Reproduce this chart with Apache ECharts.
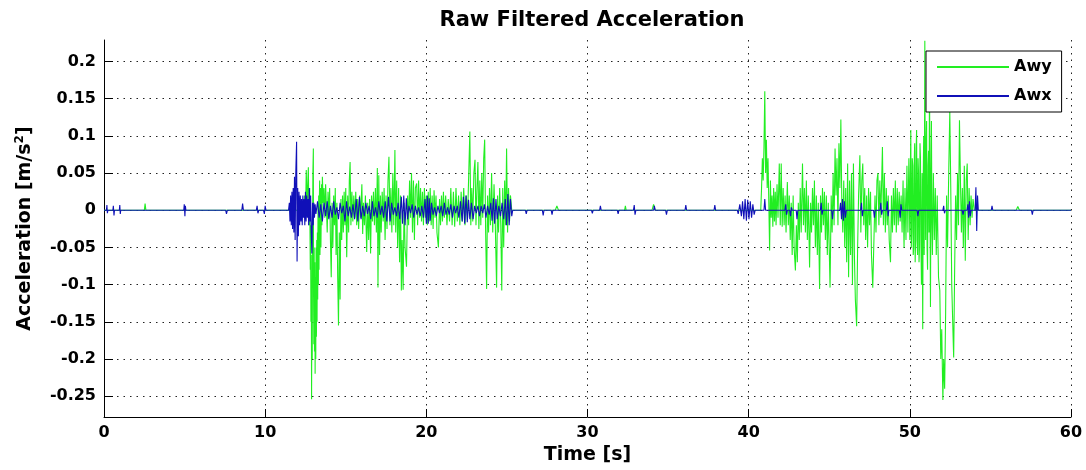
<!DOCTYPE html>
<html>
<head>
<meta charset="utf-8">
<title>Raw Filtered Acceleration</title>
<script src="https://cdn.jsdelivr.net/npm/echarts@6/dist/echarts.min.js"></script>
<style>
  html, body { margin: 0; padding: 0; background: #fff; }
  #chart { width: 1086px; height: 470px; }
</style>
</head>
<body>
<div id="chart"></div>
<script>
// y tick labels (MATLAB style, no box)
const yTicks = [-0.25, -0.2, -0.15, -0.1, -0.05, 0, 0.05, 0.1, 0.15, 0.2];

// Awy: lateral acceleration as [time s, value m/s^2]
const awyQuiet1 = [[0, 0], [2.5, 0], [2.55, 0.009], [2.6, 0], [12.4, 0]];
const awyBurst1 = [
  [12.45, 0.02], [12.5, -0.01], [12.55, 0.054], [12.6, 0.005], [12.65, 0.04], [12.68, 0.058],
  [12.72, -0.02], [12.76, 0.03], [12.8, -0.08], [12.82, -0.02], [12.84, -0.15], [12.86, -0.06],
  [12.88, -0.254], [12.9, -0.1], [12.92, -0.2], [12.94, -0.04], [12.96, 0.05], [12.99, 0.083],
  [13.0, -0.1], [13.02, -0.18], [13.04, -0.05], [13.06, -0.19], [13.08, -0.07], [13.1, -0.22],
  [13.12, -0.09], [13.14, -0.2], [13.16, -0.05], [13.18, -0.17], [13.2, -0.04], [13.22, -0.15],
  [13.24, -0.03], [13.26, -0.12], [13.28, 0.01], [13.3, -0.1], [13.32, 0.02], [13.34, -0.08],
  [13.36, 0.01], [13.38, 0.04], [13.4, -0.06], [13.42, -0.03], [13.44, 0.03], [13.46, -0.05],
  [13.5, 0.035], [13.52, -0.02], [13.55, 0.045], [13.6, 0.01], [13.65, 0.03],
  [13.7, -0.01], [13.75, 0.035], [13.8, 0.005], [13.85, -0.03], [13.9, 0.025], [13.95, -0.01],
  [14.0, 0.03], [14.05, -0.04], [14.1, -0.09], [14.15, 0.01], [14.2, -0.05], [14.25, 0.02],
  [14.3, -0.02], [14.35, 0.03], [14.4, -0.06], [14.45, 0.01], [14.5, -0.09], [14.55, -0.155],
  [14.6, -0.03], [14.65, -0.12], [14.7, 0.015], [14.75, -0.04], [14.8, 0.02], [14.85, -0.03],
  [14.9, 0.025], [14.95, -0.02], [15.0, 0.03], [15.06, -0.063], [15.12, 0.02], [15.18, -0.03],
  [15.22, 0.04], [15.27, 0.065], [15.32, -0.02], [15.38, 0.025], [15.44, -0.015], [15.5, 0.02],
  [15.56, -0.01], [15.62, 0.025], [15.68, -0.02], [15.74, 0.015], [15.8, -0.025], [15.86, 0.02],
  [15.92, -0.01], [16.0, 0.035], [16.05, -0.032], [16.1, 0.01], [16.16, -0.02], [16.22, 0.02],
  [16.3, -0.056], [16.36, 0.01], [16.42, -0.04], [16.48, 0.015], [16.54, -0.058], [16.6, 0.02],
  [16.66, -0.015], [16.72, 0.025], [16.78, -0.02], [16.84, 0.03], [16.9, -0.03], [16.96, 0.057],
  [17.0, -0.104], [17.05, 0.047], [17.1, -0.06], [17.15, 0.02], [17.2, -0.03], [17.26, 0.025],
  [17.32, -0.015], [17.38, 0.03], [17.44, -0.04], [17.5, 0.02], [17.56, -0.025], [17.62, 0.04],
  [17.68, 0.072], [17.74, -0.02], [17.8, 0.03], [17.86, -0.03], [17.92, 0.05], [17.98, -0.02],
  [18.05, 0.081], [18.1, -0.03], [18.16, 0.04], [18.22, -0.05], [18.28, 0.03], [18.34, -0.07],
  [18.4, 0.02], [18.45, -0.108], [18.5, -0.04], [18.56, -0.107], [18.62, 0.01], [18.68, -0.05],
  [18.77, -0.076], [18.84, 0.02], [18.9, -0.02], [18.96, 0.04], [19.02, -0.01], [19.08, 0.05],
  [19.14, -0.03], [19.2, 0.04], [19.26, -0.04], [19.32, 0.03], [19.4, 0.036], [19.46, -0.02],
  [19.52, 0.04], [19.58, -0.01], [19.64, 0.03], [19.7, -0.015], [19.76, 0.025], [19.82, -0.02],
  [19.88, 0.03], [19.94, -0.01], [20.0, 0.02], [20.06, -0.02], [20.12, 0.025], [20.18, -0.015],
  [20.24, 0.03], [20.3, -0.02], [20.36, 0.02], [20.42, -0.025], [20.48, 0.027], [20.54, -0.01],
  [20.6, 0.02], [20.66, -0.03], [20.75, -0.05], [20.82, 0.015], [20.88, -0.02], [20.94, 0.02],
  [21.0, -0.015], [21.06, 0.025], [21.12, -0.01], [21.2, 0.02], [21.28, -0.02], [21.36, 0.015],
  [21.44, -0.015], [21.52, 0.03], [21.6, -0.02], [21.68, 0.025], [21.76, -0.022], [21.84, 0.03],
  [21.92, -0.015], [22.0, 0.02], [22.08, -0.02], [22.16, 0.025], [22.24, -0.015], [22.32, 0.03],
  [22.4, -0.02], [22.48, 0.02], [22.56, -0.01], [22.62, 0.04], [22.7, 0.106], [22.76, -0.02],
  [22.82, 0.03], [22.88, -0.015], [22.95, 0.05], [23.02, 0.068], [23.08, -0.02], [23.14, 0.03],
  [23.2, 0.065], [23.26, -0.025], [23.32, 0.04], [23.38, -0.02], [23.44, 0.05], [23.5, -0.01],
  [23.56, 0.07], [23.62, 0.095], [23.68, -0.03], [23.74, -0.106], [23.8, 0.02], [23.86, -0.03],
  [23.92, 0.03], [23.98, -0.02], [24.05, 0.05], [24.12, -0.03], [24.2, 0.035], [24.28, -0.02],
  [24.36, -0.104], [24.42, 0.02], [24.48, -0.03], [24.55, 0.03], [24.62, -0.02], [24.68, -0.108],
  [24.74, 0.03], [24.8, -0.05], [24.86, 0.04], [24.92, -0.02], [24.98, 0.083], [25.04, -0.03],
  [25.1, 0.03], [25.16, -0.015], [25.22, 0.02], [25.3, 0]
];
const awyQuiet2 = [
  [28.0, 0], [28.1, 0.006], [28.2, 0], [32.3, 0], [32.35, 0.006], [32.4, 0],
  [34.0, 0], [34.1, 0.008], [34.2, 0], [40.75, 0]
];
const awyBurst2 = [
  [40.8, 0.03], [40.85, 0.07], [40.9, 0.04], [40.95, 0.085], [41.0, 0.16], [41.05, 0.05],
  [41.1, 0.095], [41.15, 0.03], [41.2, 0.07], [41.25, 0.01], [41.3, -0.054], [41.35, 0.04],
  [41.4, -0.01], [41.45, 0.02], [41.5, -0.022], [41.55, 0.03], [41.6, -0.015], [41.65, 0.025],
  [41.7, -0.02], [41.76, 0.035], [41.82, -0.01], [41.9, 0.063], [41.96, -0.02], [42.02, 0.063],
  [42.08, -0.022], [42.14, 0.03], [42.2, -0.02], [42.26, 0.02], [42.32, -0.03], [42.4, 0.038],
  [42.46, -0.02], [42.52, 0.02], [42.58, -0.04], [42.64, 0.01], [42.7, -0.06], [42.76, 0.02],
  [42.82, -0.05], [42.9, -0.081], [42.96, -0.02], [43.02, -0.07], [43.08, 0.01], [43.14, -0.04],
  [43.2, 0.03], [43.26, -0.03], [43.34, 0.063], [43.4, -0.02], [43.46, 0.03], [43.52, -0.03],
  [43.58, 0.04], [43.64, -0.04], [43.7, 0.02], [43.78, -0.077], [43.84, 0.01], [43.9, -0.03],
  [43.96, 0.03], [44.02, -0.02], [44.08, 0.04], [44.14, -0.05], [44.2, 0.02], [44.26, -0.06],
  [44.32, 0.01], [44.4, -0.106], [44.46, 0.02], [44.52, -0.03], [44.58, 0.03], [44.64, -0.02],
  [44.7, 0.025], [44.76, -0.04], [44.82, 0.02], [44.88, -0.06], [44.94, 0.01], [45.05, -0.104],
  [45.12, 0.02], [45.18, -0.03], [45.24, 0.05], [45.3, -0.02], [45.36, 0.083], [45.42, 0.02],
  [45.48, 0.07], [45.54, -0.02], [45.6, 0.09], [45.66, 0.03], [45.72, 0.122], [45.78, 0.01],
  [45.84, -0.03], [45.9, 0.04], [45.96, -0.05], [46.02, 0.03], [46.08, -0.07], [46.14, 0.063],
  [46.2, -0.09], [46.26, 0.04], [46.32, -0.06], [46.38, 0.05], [46.44, -0.1], [46.5, 0.063],
  [46.56, -0.06], [46.62, -0.12], [46.7, -0.156], [46.76, -0.05], [46.82, 0.02], [46.9, 0.074],
  [46.96, -0.03], [47.02, 0.04], [47.08, 0.063], [47.14, -0.02], [47.2, 0.03], [47.26, -0.04],
  [47.32, 0.02], [47.38, -0.05], [47.44, 0.03], [47.5, -0.02], [47.56, 0.025], [47.62, -0.06],
  [47.7, -0.104], [47.78, -0.106], [47.84, 0.02], [47.9, -0.03], [47.96, 0.04], [48.02, 0.05],
  [48.08, -0.02], [48.14, 0.04], [48.2, -0.01], [48.3, 0.085], [48.36, -0.02], [48.42, 0.05],
  [48.48, -0.03], [48.54, 0.03], [48.6, -0.02], [48.66, 0.02], [48.72, -0.04], [48.8, -0.07],
  [48.86, 0.02], [48.92, -0.03], [48.98, 0.03], [49.04, -0.02], [49.1, 0.04], [49.16, -0.03],
  [49.22, 0.03], [49.28, -0.02], [49.34, 0.025], [49.4, -0.015], [49.46, 0.02], [49.52, -0.03],
  [49.58, 0.04], [49.64, -0.05], [49.7, 0.03], [49.76, -0.04], [49.82, 0.06], [49.88, -0.03],
  [49.94, 0.07], [50.0, -0.04], [50.03, 0.05], [50.06, 0.108], [50.09, -0.05], [50.12, -0.03],
  [50.15, 0.07], [50.18, 0.06], [50.21, -0.06], [50.24, -0.05], [50.27, 0.06], [50.3, 0.09],
  [50.33, -0.07], [50.36, -0.04], [50.39, 0.08], [50.42, 0.108], [50.45, -0.04], [50.48, -0.06],
  [50.51, 0.07], [50.54, 0.05], [50.57, -0.07], [50.6, -0.05], [50.63, 0.09], [50.66, 0.07],
  [50.69, -0.04], [50.72, -0.1], [50.76, 0.05], [50.8, -0.16], [50.83, 0.04], [50.86, 0.1],
  [50.89, -0.06], [50.93, 0.228], [50.96, 0.02], [50.98, -0.04], [51.01, 0.09], [51.04, 0.12],
  [51.07, -0.05], [51.1, -0.08], [51.13, 0.06], [51.16, 0.08], [51.19, -0.03], [51.22, 0.185],
  [51.25, 0.02], [51.28, -0.13], [51.31, 0.05], [51.34, 0.12], [51.37, -0.02], [51.4, -0.06],
  [51.46, 0.05], [51.52, -0.04], [51.58, 0.03], [51.64, -0.06], [51.7, 0.02],
  [51.78, -0.09], [51.86, -0.108], [51.92, -0.2], [51.98, -0.16], [52.05, -0.255], [52.1, -0.2],
  [52.16, -0.24], [52.22, -0.14], [52.28, 0.02], [52.34, -0.05], [52.42, 0.06], [52.48, 0.133],
  [52.54, 0.03], [52.6, -0.1], [52.66, -0.15], [52.72, -0.198], [52.78, -0.08], [52.84, 0.02],
  [52.9, -0.04], [52.96, 0.05], [53.02, -0.02], [53.08, 0.121], [53.14, 0.04], [53.2, -0.03],
  [53.26, 0.03], [53.32, -0.05], [53.38, 0.06], [53.44, -0.068], [53.5, 0.04], [53.56, 0.063],
  [53.62, -0.04], [53.68, 0.03], [53.74, -0.02], [53.8, 0.02], [53.86, -0.01], [53.92, 0.015],
  [54.0, 0]
];
const awyQuiet3 = [[56.6, 0], [56.7, 0.005], [56.8, 0], [60, 0]];

// Awx: longitudinal acceleration
const awxQuiet1 = [
  [0, 0], [0.15, 0], [0.18, 0.007], [0.21, -0.004], [0.24, 0], [0.55, 0], [0.58, 0.006],
  [0.62, -0.007], [0.65, 0], [0.95, 0], [0.98, 0.007], [1.01, -0.005], [1.04, 0], [4.95, 0],
  [4.98, 0.008], [5.02, -0.008], [5.05, 0.006], [5.08, 0], [7.55, 0], [7.6, -0.005], [7.65, 0],
  [8.55, 0], [8.6, 0.009], [8.65, 0], [9.45, 0], [9.5, 0.006], [9.55, -0.004], [9.6, 0],
  [9.9, 0], [9.95, -0.005], [10.0, 0.006], [10.05, 0], [11.45, 0]
];
const awxBurst1 = [
  [11.5, 0.01], [11.54, -0.015], [11.58, 0.02], [11.62, -0.02], [11.66, 0.025], [11.7, -0.025],
  [11.74, 0.03], [11.78, -0.03], [11.82, 0.045], [11.86, -0.04], [11.9, 0.05], [11.95, 0.092],
  [11.98, -0.069], [12.02, 0.03], [12.06, -0.035], [12.1, 0.025], [12.14, -0.02], [12.18, 0.02],
  [12.22, -0.015], [12.26, 0.015], [12.3, -0.02], [12.34, 0.02], [12.38, -0.01], [12.42, 0.015],
  [12.46, -0.02], [12.5, 0.025], [12.54, -0.015], [12.58, 0.02], [12.62, -0.01], [12.66, 0.015],
  [12.7, -0.02], [12.74, 0.03], [12.78, -0.015], [12.82, 0.02], [12.86, -0.03], [12.9, -0.058],
  [12.94, 0.01], [12.98, -0.02], [13.02, 0.01], [13.06, -0.01], [13.1, 0.008], [13.15, -0.005],
  [13.25, 0.012], [13.35, -0.01], [13.45, 0.008], [13.55, -0.015], [13.65, 0.01], [13.75, -0.008],
  [13.85, 0.012], [13.95, -0.012], [14.05, 0.006], [14.15, -0.01], [14.25, 0.012], [14.35, -0.006],
  [14.45, 0.004], [14.55, -0.012], [14.65, 0.01], [14.75, -0.004], [14.85, 0.006], [14.95, -0.015],
  [15.05, 0.012], [15.15, -0.008], [15.25, 0.005], [15.35, -0.01], [15.45, 0.008], [15.55, -0.012],
  [15.65, 0.015], [15.75, -0.015], [15.85, 0.018], [15.95, -0.012], [16.05, 0.006], [16.15, -0.008],
  [16.25, 0.01], [16.35, -0.005], [16.45, 0.006], [16.55, -0.012], [16.65, 0.012], [16.75, -0.008],
  [16.85, 0.004], [16.95, -0.01], [17.05, 0.012], [17.15, -0.006], [17.25, 0.006], [17.35, -0.01],
  [17.45, 0.012], [17.55, -0.015], [17.65, 0.018], [17.75, -0.015], [17.85, 0.01], [17.95, -0.006],
  [18.05, 0.004], [18.15, -0.008], [18.25, 0.01], [18.35, -0.012], [18.45, 0.018], [18.52, -0.018],
  [18.6, 0.02], [18.68, -0.02], [18.76, 0.016], [18.84, -0.012], [18.92, 0.006], [19.02, -0.004],
  [19.12, 0.008], [19.22, -0.01], [19.32, 0.006], [19.42, -0.006], [19.52, 0.004], [19.62, -0.008],
  [19.72, 0.006], [19.82, -0.01], [19.92, 0.015], [20.0, -0.018], [20.06, 0.02], [20.12, -0.018],
  [20.18, 0.016], [20.24, -0.014], [20.32, 0.01], [20.42, -0.006], [20.52, 0.004], [20.62, -0.008],
  [20.72, 0.006], [20.82, -0.004], [20.92, 0.006], [21.02, -0.008], [21.12, 0.01], [21.22, -0.006],
  [21.32, 0.004], [21.42, -0.006], [21.52, 0.008], [21.62, -0.01], [21.72, 0.006], [21.82, -0.004],
  [21.92, 0.006], [22.02, -0.01], [22.12, 0.012], [22.22, -0.015], [22.3, 0.018], [22.38, -0.018],
  [22.46, 0.02], [22.54, -0.016], [22.62, 0.014], [22.7, -0.012], [22.8, 0.01], [22.9, -0.012],
  [23.0, 0.006], [23.1, -0.004], [23.2, 0.006], [23.3, -0.008], [23.4, 0.006], [23.5, -0.004],
  [23.6, 0.008], [23.7, -0.01], [23.8, 0.006], [23.9, -0.006], [24.0, 0.01], [24.08, -0.014],
  [24.16, 0.016], [24.24, -0.018], [24.32, 0.015], [24.4, -0.012], [24.5, 0.006], [24.6, -0.008],
  [24.7, 0.01], [24.8, -0.012], [24.9, 0.015], [24.98, -0.02], [25.06, 0.022], [25.14, -0.02],
  [25.22, 0.015], [25.3, -0.008], [25.36, 0]
];
const awxQuiet2 = [
  [26.15, 0], [26.2, -0.005], [26.25, 0], [27.2, 0], [27.25, -0.007], [27.3, 0], [27.75, 0],
  [27.8, -0.006], [27.85, 0], [30.25, 0], [30.3, -0.004], [30.35, 0], [30.75, 0], [30.8, 0.006],
  [30.85, 0], [31.85, 0], [31.9, -0.005], [31.95, 0], [32.85, 0], [32.9, 0.007], [32.95, -0.006],
  [33.0, 0], [34.1, 0], [34.15, 0.006], [34.2, 0], [34.85, 0], [34.9, -0.006], [34.95, 0],
  [36.05, 0], [36.1, 0.007], [36.15, 0], [37.85, 0], [37.9, 0.007], [37.95, 0], [39.3, 0]
];
const awxBurst2 = [
  [39.35, -0.005], [39.45, 0.008], [39.55, -0.008], [39.62, 0.012], [39.7, -0.012], [39.78, 0.015],
  [39.86, -0.014], [39.94, 0.014], [40.02, -0.012], [40.1, 0.012], [40.18, -0.01], [40.26, 0.008],
  [40.34, -0.006], [40.4, 0], [40.95, 0], [41.0, 0.015], [41.05, 0], [42.25, 0], [42.3, 0.008],
  [42.35, -0.006], [42.4, 0], [42.55, 0], [42.6, -0.008], [42.65, 0.004], [42.7, 0], [42.95, 0],
  [43.0, -0.012], [43.05, 0], [44.45, 0], [44.5, 0.01], [44.55, -0.006], [44.6, 0], [45.15, 0],
  [45.2, -0.012], [45.25, 0], [45.65, 0], [45.7, 0.01], [45.76, -0.012], [45.82, 0.015],
  [45.88, -0.014], [45.94, 0.012], [46.0, -0.01], [46.06, 0], [46.95, 0], [47.0, 0.01],
  [47.05, -0.008], [47.1, 0], [47.75, 0], [47.8, -0.01], [47.85, 0], [48.15, 0], [48.2, 0.01],
  [48.25, -0.006], [48.3, 0], [48.55, 0], [48.6, 0.012], [48.65, -0.008], [48.7, 0], [49.35, 0],
  [49.4, -0.01], [49.45, 0.008], [49.5, 0], [50.45, 0], [50.5, -0.008], [50.55, 0], [52.05, 0],
  [52.1, 0.006], [52.15, -0.004], [52.2, 0], [53.25, 0], [53.3, -0.006], [53.35, 0], [53.55, 0],
  [53.6, 0.008], [53.65, -0.01], [53.7, 0.012], [53.75, -0.008], [53.8, 0], [54.05, 0],
  [54.1, 0.031], [54.15, -0.028], [54.2, 0.02], [54.25, 0]
];
const awxQuiet3 = [[55.05, 0], [55.1, 0.006], [55.15, 0], [57.55, 0], [57.6, -0.006], [57.65, 0], [60, 0]];

const awy = awyQuiet1.concat(awyBurst1, awyQuiet2, awyBurst2, awyQuiet3);
const awx = awxQuiet1.concat(awxBurst1, awxQuiet2, awxBurst2, awxQuiet3);

var font = "DejaVu Sans";
var chart = echarts.init(document.getElementById("chart"));

var gridLine = {
  show: true,
  lineStyle: { color: "#222", width: 1, type: [1.5, 5] }
};

var option = {
  animation: false,
  backgroundColor: "#fff",
  title: {
    text: "Raw Filtered Acceleration",
    left: 587,
    top: 5,
    textAlign: "center",
    textStyle: { fontFamily: font, fontWeight: "bold", fontSize: 21, color: "#000" }
  },
  legend: {
    orient: "vertical",
    left: 926,
    top: 51,
    padding: [8, 10, 8, 10],
    itemWidth: 72,
    itemHeight: 14,
    itemGap: 13,
    borderColor: "#000",
    borderWidth: 1,
    backgroundColor: "#fff",
    itemStyle: { opacity: 0 },
    textStyle: { fontFamily: font, fontWeight: "bold", fontSize: 16, color: "#000" },
    data: ["Awy", "Awx"]
  },
  grid: { left: 104, right: 15, top: 40, bottom: 53 },
  xAxis: {
    type: "value",
    min: 0,
    max: 60,
    interval: 10,
    name: "Time [s]",
    nameLocation: "middle",
    nameGap: 27,
    nameTextStyle: { fontFamily: font, fontWeight: "bold", fontSize: 19, color: "#000" },
    axisLine: { onZero: false, lineStyle: { color: "#000", width: 1 } },
    axisTick: { inside: true, length: 8, lineStyle: { color: "#000" } },
    axisLabel: { margin: 8, fontFamily: font, fontWeight: "bold", fontSize: 16, color: "#000" },
    splitLine: gridLine
  },
  yAxis: {
    type: "value",
    min: -0.278,
    max: 0.229,
    name: "Acceleration [m/s{sup|2}]",
    nameLocation: "middle",
    nameGap: 68,
    nameTextStyle: {
      fontFamily: font, fontWeight: "bold", fontSize: 19, color: "#000",
      rich: { sup: { fontFamily: font, fontWeight: "bold", fontSize: 12, color: "#000", padding: [0, 0, 10, 0] } }
    },
    axisLine: { show: true, lineStyle: { color: "#000", width: 1 } },
    axisTick: { inside: true, length: 9, customValues: yTicks, lineStyle: { color: "#000" } },
    axisLabel: {
      margin: 8, customValues: yTicks, fontFamily: font, fontWeight: "bold", fontSize: 16, color: "#000",
      formatter: function (v) { return String(Math.round(v * 100) / 100); }
    },
    splitLine: gridLine
  },
  series: [
    {
      name: "Awy",
      type: "line",
      symbol: "none",
      sampling: "none",
      lineStyle: { color: "#22ee22", width: 1.1 },
      itemStyle: { color: "#22ee22" },
      data: awy
    },
    {
      name: "Awx",
      type: "line",
      symbol: "none",
      sampling: "none",
      lineStyle: { color: "#1010b8", width: 1.1 },
      itemStyle: { color: "#1010b8" },
      data: awx
    }
  ]
};

chart.setOption(option);
</script>
</body>
</html>
